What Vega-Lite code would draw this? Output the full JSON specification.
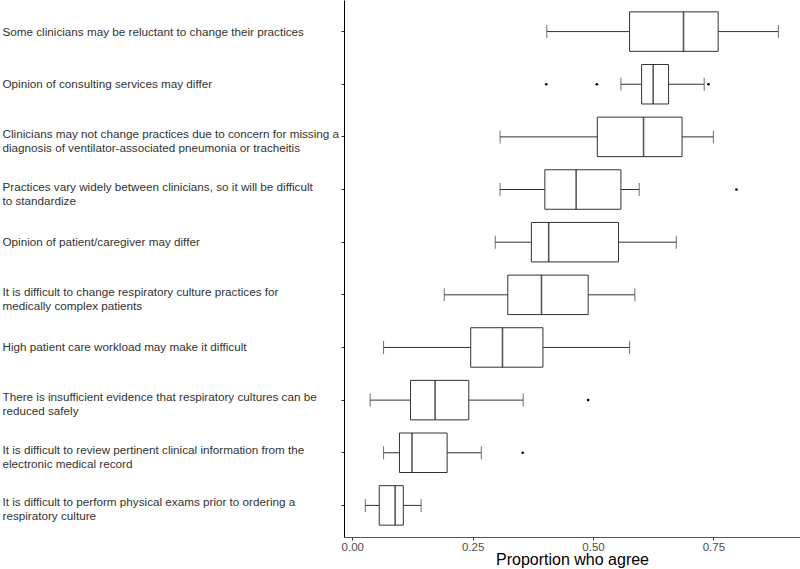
{
  "$schema": "https://vega.github.io/schema/vega-lite/v6.json",
  "autosize": {"type": "none"},
  "padding": {"left": 344, "top": 0, "right": 0, "bottom": 32},
  "width": 456,
  "height": 537,
  "background": "white",
  "config": {
    "view": {"stroke": null},
    "font": "Liberation Sans",
    "axis": {"grid": false, "domainColor": "#333333", "tickColor": "#333333", "labelColor": "#4d4d4d", "labelFont": "Liberation Sans", "titleFont": "Liberation Sans"}
  },
  "datasets": {
    "boxes": [
      {"item": "Some clinicians may be reluctant to change their practices", "lo": 0.404, "q1": 0.576, "med": 0.688, "q3": 0.760, "hi": 0.885},
      {"item": "Opinion of consulting services may differ", "lo": 0.558, "q1": 0.601, "med": 0.625, "q3": 0.657, "hi": 0.731},
      {"item": "Clinicians may not change practices due to concern for missing a|diagnosis of ventilator-associated pneumonia or tracheitis", "lo": 0.307, "q1": 0.509, "med": 0.605, "q3": 0.685, "hi": 0.750},
      {"item": "Practices vary widely between clinicians, so it will be difficult|to standardize", "lo": 0.307, "q1": 0.400, "med": 0.465, "q3": 0.558, "hi": 0.596},
      {"item": "Opinion of patient/caregiver may differ", "lo": 0.297, "q1": 0.372, "med": 0.408, "q3": 0.553, "hi": 0.673},
      {"item": "It is difficult to change respiratory culture practices for|medically complex patients", "lo": 0.191, "q1": 0.323, "med": 0.393, "q3": 0.490, "hi": 0.587},
      {"item": "High patient care workload may make it difficult", "lo": 0.065, "q1": 0.246, "med": 0.312, "q3": 0.396, "hi": 0.576},
      {"item": "There is insufficient evidence that respiratory cultures can be|reduced safely", "lo": 0.037, "q1": 0.121, "med": 0.172, "q3": 0.242, "hi": 0.355},
      {"item": "It is difficult to review pertinent clinical information from the|electronic medical record", "lo": 0.065, "q1": 0.098, "med": 0.124, "q3": 0.197, "hi": 0.268},
      {"item": "It is difficult to perform physical exams prior to ordering a|respiratory culture", "lo": 0.027, "q1": 0.056, "med": 0.089, "q3": 0.106, "hi": 0.143}
    ],
    "outliers": [
      {"item": "Opinion of consulting services may differ", "value": 0.403},
      {"item": "Opinion of consulting services may differ", "value": 0.508},
      {"item": "Opinion of consulting services may differ", "value": 0.740},
      {"item": "Practices vary widely between clinicians, so it will be difficult|to standardize", "value": 0.798},
      {"item": "There is insufficient evidence that respiratory cultures can be|reduced safely", "value": 0.490},
      {"item": "It is difficult to review pertinent clinical information from the|electronic medical record", "value": 0.354}
    ]
  },
  "data": {"name": "boxes"},
  "encoding": {
    "y": {
      "field": "item", "type": "nominal", "sort": null,
      "scale": {"type": "band", "paddingInner": 0, "paddingOuter": 0.1},
      "axis": {"title": null, "labelAlign": "left", "labelBaseline": "middle", "labelPadding": 339, "tickSize": 3, "labelLimit": 400, "labelFontSize": 11.7, "labelLineHeight": 14, "labelExpr": "split(datum.label, '|')", "labelColor": "#333333", "domainColor": "#000000",
        "labelOffset": {"condition": {"test": "indexof(datum.value, '|') >= 0", "value": -3}, "value": 0}}
    }
  },
  "layer": [
    {
      "mark": {"type": "rule", "color": "#333333", "strokeWidth": 1},
      "encoding": {
        "x": {"field": "lo", "type": "quantitative",
          "scale": {"domain": [-0.0172, 0.930], "nice": false, "zero": false},
          "axis": {"title": "Proportion who agree", "values": [0, 0.25, 0.5, 0.75], "format": ".2f", "tickSize": 3, "labelFontSize": 11.5, "labelPadding": 1, "titleFontSize": 16, "titleFontWeight": "normal", "titleColor": "#000000", "titlePadding": -1, "domainColor": "#555555"}},
        "x2": {"field": "hi"}
      }
    },
    {
      "mark": {"type": "bar", "fill": "white", "stroke": "#333333", "strokeWidth": 1, "height": {"band": 0.75}},
      "encoding": {
        "x": {"field": "q1", "type": "quantitative"},
        "x2": {"field": "q3"}
      }
    },
    {
      "mark": {"type": "tick", "color": "#111111", "thickness": 1.6, "size": 39.5},
      "encoding": {"x": {"field": "med", "type": "quantitative"}}
    },
    {
      "mark": {"type": "tick", "color": "#333333", "thickness": 1, "size": 13},
      "encoding": {"x": {"field": "lo", "type": "quantitative"}}
    },
    {
      "mark": {"type": "tick", "color": "#333333", "thickness": 1, "size": 13},
      "encoding": {"x": {"field": "hi", "type": "quantitative"}}
    },
    {
      "data": {"name": "outliers"},
      "mark": {"type": "point", "filled": true, "color": "#000000", "size": 7, "opacity": 1},
      "encoding": {"x": {"field": "value", "type": "quantitative"}}
    }
  ]
}
